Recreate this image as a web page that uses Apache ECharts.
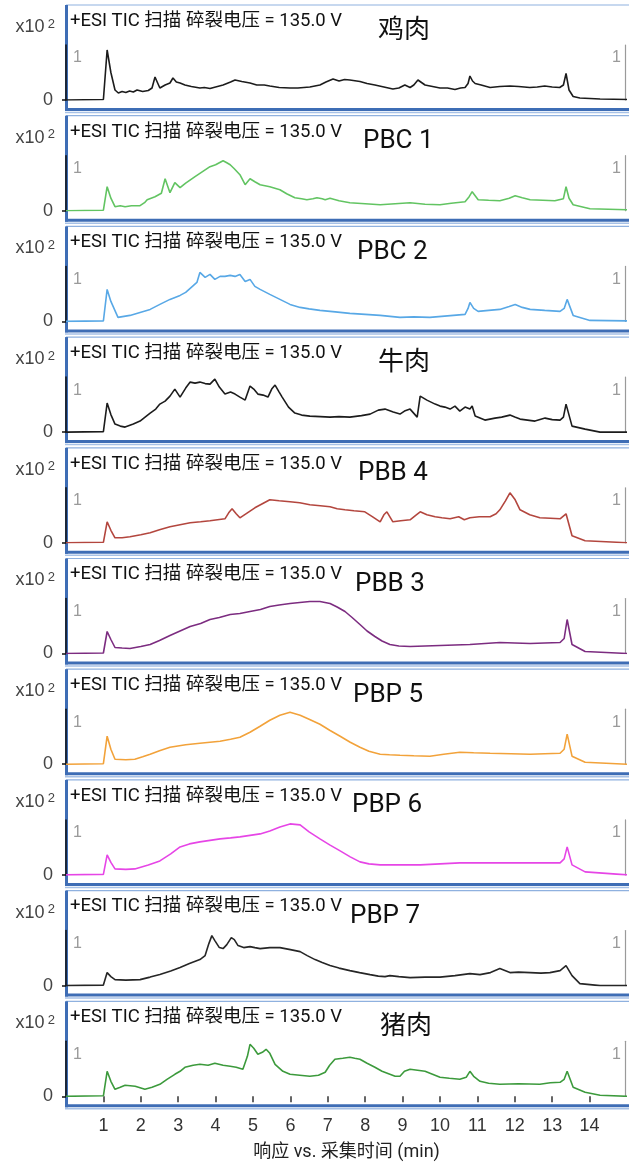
<!DOCTYPE html>
<html>
<head>
<meta charset="utf-8">
<script src="https://cdn.jsdelivr.net/npm/echarts@6.0.0/dist/echarts.min.js"></script>
<style>
  html, body { margin: 0; padding: 0; background: #fff; }
  #tic-chart { width: 629px; height: 1164px; }
</style>
</head>
<body>
<div id="tic-chart"></div>
<script>
// 样品名称（每个面板一个）
var sampleNames = ['鸡肉', 'PBC 1', 'PBC 2', '牛肉', 'PBB 4', 'PBB 3', 'PBP 5', 'PBP 6', 'PBP 7', '猪肉'];
var headerText = '+ESI TIC 扫描 碎裂电压 = 135.0 V';
var xTicks = [1, 2, 3, 4, 5, 6, 7, 8, 9, 10, 11, 12, 13, 14];
var yTickZero = [0];
var yTickOne = [1];

// TIC 数据 [时间(min), 响应 x10^2]
var jirou = [[0,0],[1.0,0.01],[1.1,1.0],[1.2,0.55],[1.31,0.2],[1.4,0.14],[1.5,0.17],[1.6,0.15],[1.7,0.18],[1.8,0.16],[1.9,0.2],[2.05,0.17],[2.2,0.19],[2.3,0.24],[2.38,0.46],[2.45,0.34],[2.51,0.24],[2.65,0.3],[2.78,0.34],[2.86,0.44],[2.95,0.36],[3.05,0.34],[3.18,0.3],[3.35,0.27],[3.58,0.24],[3.7,0.25],[3.85,0.23],[4.0,0.26],[4.2,0.3],[4.4,0.36],[4.52,0.4],[4.7,0.37],[4.92,0.34],[5.1,0.3],[5.3,0.3],[5.45,0.28],[5.7,0.25],[5.99,0.24],[6.2,0.24],[6.52,0.26],[6.79,0.3],[6.95,0.36],[7.14,0.42],[7.3,0.38],[7.45,0.41],[7.59,0.4],[7.86,0.37],[8.05,0.33],[8.26,0.3],[8.5,0.26],[8.74,0.22],[8.9,0.24],[9.06,0.3],[9.2,0.25],[9.3,0.3],[9.41,0.4],[9.6,0.3],[9.8,0.27],[10.0,0.24],[10.2,0.24],[10.4,0.21],[10.55,0.24],[10.67,0.25],[10.75,0.33],[10.8,0.48],[10.87,0.38],[10.94,0.33],[11.1,0.3],[11.34,0.25],[11.6,0.27],[11.87,0.28],[12.1,0.27],[12.4,0.25],[12.6,0.26],[12.8,0.28],[13.0,0.26],[13.2,0.25],[13.3,0.3],[13.37,0.53],[13.45,0.2],[13.56,0.07],[13.74,0.04],[14.28,0.02],[15,0.01]];
var pbc1 = [[0,0],[1.0,0.01],[1.1,0.48],[1.2,0.25],[1.31,0.08],[1.45,0.1],[1.58,0.08],[1.75,0.1],[1.98,0.1],[2.1,0.16],[2.17,0.22],[2.38,0.28],[2.55,0.35],[2.65,0.64],[2.78,0.36],[2.91,0.56],[3.05,0.46],[3.2,0.55],[3.45,0.68],[3.65,0.78],[3.85,0.88],[4.0,0.92],[4.2,1.0],[4.3,0.96],[4.39,0.92],[4.5,0.84],[4.65,0.72],[4.79,0.52],[4.92,0.64],[5.05,0.58],[5.19,0.52],[5.45,0.48],[5.72,0.42],[5.9,0.34],[6.12,0.26],[6.3,0.24],[6.44,0.22],[6.6,0.24],[6.71,0.26],[6.85,0.24],[6.93,0.22],[7.06,0.25],[7.3,0.2],[7.59,0.16],[8.0,0.14],[8.4,0.12],[8.8,0.14],[9.2,0.16],[9.6,0.13],[10.0,0.12],[10.3,0.15],[10.67,0.18],[10.78,0.28],[10.86,0.38],[11.02,0.22],[11.3,0.21],[11.6,0.2],[11.85,0.25],[12.01,0.3],[12.2,0.26],[12.41,0.22],[12.75,0.21],[13.07,0.2],[13.3,0.24],[13.37,0.48],[13.45,0.25],[13.56,0.12],[14.01,0.04],[15,0.02]];
var pbc2 = [[0,0],[1.0,0.01],[1.1,0.64],[1.2,0.4],[1.39,0.08],[1.55,0.1],[1.71,0.12],[1.98,0.18],[2.25,0.24],[2.51,0.34],[2.78,0.44],[3.05,0.52],[3.2,0.58],[3.32,0.66],[3.5,0.78],[3.58,0.98],[3.72,0.88],[3.85,0.94],[3.98,0.84],[4.12,0.9],[4.25,0.9],[4.39,0.92],[4.52,0.9],[4.65,0.94],[4.79,0.8],[4.92,0.84],[5.05,0.7],[5.19,0.64],[5.45,0.54],[5.72,0.44],[5.99,0.34],[6.26,0.28],[6.5,0.25],[6.79,0.22],[7.2,0.19],[7.59,0.16],[8.0,0.14],[8.4,0.12],[8.93,0.08],[9.3,0.09],[9.73,0.08],[10.2,0.11],[10.67,0.14],[10.75,0.26],[10.8,0.38],[10.9,0.26],[11.02,0.2],[11.3,0.22],[11.6,0.24],[11.85,0.3],[12.01,0.34],[12.2,0.28],[12.41,0.24],[12.8,0.22],[13.21,0.2],[13.32,0.26],[13.4,0.44],[13.56,0.12],[14.01,0.02],[15,0.01]];
var niurou = [[0,0],[1.0,0.01],[1.1,0.58],[1.2,0.35],[1.31,0.16],[1.45,0.12],[1.58,0.1],[1.8,0.16],[1.98,0.22],[2.25,0.38],[2.4,0.46],[2.51,0.56],[2.65,0.62],[2.78,0.72],[2.91,0.86],[3.05,0.7],[3.2,0.88],[3.32,1.0],[3.45,0.98],[3.58,1.0],[3.72,0.97],[3.85,0.96],[3.98,1.06],[4.1,0.9],[4.25,0.76],[4.4,0.8],[4.52,0.76],[4.65,0.7],[4.79,0.64],[4.92,0.92],[5.02,0.86],[5.13,0.76],[5.27,0.74],[5.4,0.7],[5.5,0.86],[5.59,0.94],[5.7,0.8],[5.78,0.7],[5.95,0.5],[6.12,0.38],[6.3,0.34],[6.52,0.32],[6.8,0.31],[7.06,0.3],[7.3,0.31],[7.59,0.3],[7.9,0.33],[8.13,0.36],[8.35,0.44],[8.53,0.46],[8.75,0.4],[8.93,0.36],[9.05,0.42],[9.2,0.46],[9.39,0.3],[9.47,0.72],[9.65,0.64],[9.87,0.56],[10.0,0.52],[10.13,0.5],[10.27,0.46],[10.4,0.52],[10.53,0.42],[10.67,0.5],[10.8,0.46],[10.86,0.52],[10.94,0.32],[11.2,0.24],[11.47,0.28],[11.65,0.3],[11.87,0.34],[12.0,0.3],[12.14,0.26],[12.54,0.22],[12.81,0.28],[13.0,0.25],[13.21,0.24],[13.3,0.3],[13.37,0.56],[13.53,0.12],[13.88,0.06],[14.28,0.0],[15,0]];
var pbb4 = [[0,0],[1.0,0.01],[1.1,0.42],[1.2,0.25],[1.31,0.1],[1.5,0.1],[1.71,0.12],[2.0,0.16],[2.25,0.2],[2.5,0.26],[2.78,0.32],[3.05,0.36],[3.32,0.4],[3.6,0.42],[3.85,0.44],[4.05,0.46],[4.25,0.48],[4.35,0.6],[4.44,0.68],[4.55,0.58],[4.65,0.5],[4.85,0.6],[5.05,0.7],[5.25,0.78],[5.45,0.86],[5.7,0.84],[5.99,0.82],[6.25,0.8],[6.52,0.76],[6.8,0.74],[7.06,0.72],[7.25,0.68],[7.46,0.66],[7.7,0.64],[7.99,0.62],[8.2,0.52],[8.4,0.42],[8.5,0.56],[8.58,0.62],[8.74,0.42],[8.95,0.44],[9.2,0.46],[9.35,0.55],[9.47,0.62],[9.65,0.56],[9.87,0.52],[10.05,0.5],[10.27,0.48],[10.5,0.52],[10.65,0.46],[10.8,0.5],[11.05,0.52],[11.34,0.52],[11.5,0.58],[11.6,0.66],[11.75,0.84],[11.87,1.0],[12.01,0.86],[12.14,0.66],[12.4,0.56],[12.67,0.5],[12.95,0.49],[13.21,0.48],[13.37,0.58],[13.53,0.14],[13.88,0.04],[15,0]];
var pbb3 = [[0,0],[1.0,0.01],[1.1,0.44],[1.2,0.28],[1.31,0.12],[1.5,0.11],[1.71,0.1],[2.0,0.14],[2.25,0.18],[2.5,0.26],[2.78,0.36],[3.05,0.45],[3.32,0.54],[3.6,0.6],[3.85,0.68],[4.1,0.72],[4.39,0.78],[4.65,0.8],[4.92,0.84],[5.2,0.88],[5.45,0.94],[5.7,0.97],[5.99,1.0],[6.25,1.02],[6.52,1.04],[6.79,1.04],[7.06,1.0],[7.25,0.93],[7.46,0.84],[7.65,0.72],[7.86,0.58],[8.05,0.45],[8.26,0.34],[8.45,0.25],[8.66,0.18],[8.9,0.15],[9.2,0.14],[9.6,0.15],[10.0,0.16],[10.4,0.17],[10.8,0.18],[11.2,0.2],[11.6,0.22],[12.0,0.21],[12.41,0.2],[12.8,0.21],[13.21,0.22],[13.32,0.3],[13.4,0.68],[13.53,0.18],[13.88,0.04],[15,0]];
var pbp5 = [[0,0],[1.0,0.01],[1.1,0.56],[1.2,0.3],[1.31,0.1],[1.6,0.09],[1.84,0.1],[2.05,0.15],[2.25,0.2],[2.5,0.27],[2.78,0.34],[3.2,0.39],[3.58,0.42],[3.85,0.44],[4.12,0.46],[4.4,0.5],[4.65,0.54],[4.92,0.64],[5.19,0.76],[5.45,0.88],[5.72,0.98],[5.99,1.04],[6.26,0.98],[6.5,0.9],[6.79,0.8],[7.05,0.68],[7.33,0.56],[7.6,0.44],[7.86,0.34],[8.1,0.26],[8.4,0.2],[8.65,0.19],[8.93,0.18],[9.3,0.17],[9.73,0.16],[10.1,0.2],[10.53,0.24],[10.9,0.23],[11.34,0.22],[11.9,0.21],[12.41,0.2],[12.8,0.21],[13.21,0.22],[13.32,0.3],[13.4,0.6],[13.53,0.16],[13.88,0.04],[15,0]];
var pbp6 = [[0,0],[1.0,0.01],[1.1,0.4],[1.2,0.25],[1.31,0.12],[1.6,0.11],[1.84,0.12],[2.2,0.2],[2.51,0.28],[2.8,0.42],[3.05,0.56],[3.3,0.62],[3.58,0.66],[3.85,0.69],[4.12,0.72],[4.4,0.74],[4.65,0.76],[4.92,0.79],[5.19,0.82],[5.45,0.88],[5.72,0.96],[5.99,1.02],[6.26,1.0],[6.5,0.86],[6.79,0.72],[7.05,0.6],[7.33,0.48],[7.6,0.36],[7.86,0.26],[8.1,0.22],[8.4,0.2],[8.9,0.2],[9.47,0.2],[10.0,0.22],[10.53,0.24],[11.1,0.24],[11.6,0.24],[12.4,0.24],[13.21,0.24],[13.32,0.32],[13.4,0.56],[13.53,0.2],[13.88,0.06],[15,0]];
var pbp7 = [[0,0],[1.0,0.01],[1.1,0.26],[1.2,0.18],[1.31,0.12],[1.6,0.11],[1.98,0.12],[2.25,0.17],[2.51,0.22],[2.8,0.29],[3.05,0.36],[3.3,0.44],[3.58,0.52],[3.72,0.6],[3.82,0.84],[3.9,1.0],[3.98,0.9],[4.1,0.76],[4.2,0.74],[4.3,0.82],[4.42,0.96],[4.5,0.92],[4.6,0.8],[4.75,0.76],[4.92,0.78],[5.05,0.76],[5.19,0.74],[5.45,0.76],[5.72,0.76],[6.0,0.72],[6.26,0.68],[6.45,0.6],[6.66,0.52],[6.85,0.46],[7.06,0.4],[7.3,0.35],[7.59,0.3],[7.85,0.26],[8.13,0.22],[8.35,0.19],[8.53,0.18],[8.66,0.2],[8.9,0.18],[9.2,0.16],[9.6,0.17],[10.0,0.17],[10.4,0.2],[10.8,0.24],[11.07,0.22],[11.35,0.26],[11.6,0.34],[11.87,0.26],[12.1,0.27],[12.41,0.26],[12.7,0.25],[12.94,0.26],[13.21,0.3],[13.37,0.4],[13.53,0.2],[13.74,0.04],[14.28,0],[15,0]];
var zhurou = [[0,0],[1.0,0.01],[1.1,0.5],[1.2,0.3],[1.31,0.14],[1.45,0.18],[1.58,0.22],[1.85,0.2],[2.11,0.14],[2.3,0.18],[2.51,0.24],[2.7,0.34],[2.91,0.44],[3.05,0.5],[3.18,0.58],[3.4,0.62],[3.58,0.64],[3.8,0.62],[3.98,0.66],[4.2,0.62],[4.39,0.6],[4.55,0.58],[4.73,0.54],[4.85,0.8],[4.92,1.04],[5.02,0.96],[5.13,0.84],[5.25,0.88],[5.35,0.94],[5.45,0.86],[5.59,0.64],[5.8,0.5],[5.99,0.44],[6.25,0.42],[6.52,0.4],[6.75,0.42],[6.93,0.48],[7.05,0.62],[7.19,0.74],[7.4,0.76],[7.59,0.78],[7.72,0.76],[7.86,0.74],[8.05,0.66],[8.26,0.58],[8.45,0.5],[8.66,0.44],[8.8,0.4],[8.93,0.4],[9.05,0.5],[9.2,0.54],[9.4,0.52],[9.6,0.5],[9.8,0.44],[10.0,0.38],[10.25,0.36],[10.53,0.34],[10.7,0.38],[10.8,0.5],[10.9,0.4],[11.07,0.3],[11.3,0.26],[11.6,0.24],[12.1,0.25],[12.67,0.24],[12.95,0.27],[13.21,0.28],[13.32,0.34],[13.4,0.5],[13.56,0.18],[13.88,0.08],[14.28,0.02],[15,0]];

var seriesData = [jirou, pbc1, pbc2, niurou, pbb4, pbb3, pbp5, pbp6, pbp7, zhurou];
var lineColors = ['#1c1c1c', '#62c462', '#58a8e6', '#1c1c1c', '#b3463e', '#7c2c80', '#f2a23a', '#e645e6', '#262626', '#3c9a3c'];
// 名称的水平位置
var nameLeft = [378, 363, 357, 378, 358, 355, 353, 352, 350, 380];

var chart = echarts.init(document.getElementById('tic-chart'));

var pitch = 110.7;
var frameTop = 5;
var grids = [], xAxes = [], yAxes = [], series = [], titles = [], graphics = [];
var font = "Roboto, 'Noto Sans CJK SC', sans-serif";

for (var i = 0; i < seriesData.length; i++) {
    var T = frameTop + pitch * i;
    var last = i === seriesData.length - 1;

    // 面板边框
    graphics.push({ type: 'line', shape: { x1: 66, y1: T, x2: 629, y2: T }, style: { stroke: '#8fb1df', lineWidth: 1.2 } });
    graphics.push({ type: 'rect', shape: { x: 65, y: T, width: 3, height: 106 }, style: { fill: '#3e6db5' } });
    graphics.push({ type: 'rect', shape: { x: 65, y: T + 103, width: 564, height: 3 }, style: { fill: '#3e6db5' } });
    graphics.push({ type: 'line', shape: { x1: 65, y1: T + 107.5, x2: 629, y2: T + 107.5 }, style: { stroke: '#a7c1e6', lineWidth: 1.5 } });

    grids.push({ left: 66, right: 2, top: T + 40, height: 55 });

    xAxes.push({
        gridIndex: i,
        type: 'value',
        min: 0,
        max: 15,
        interval: 1,
        show: last,
        offset: 12,
        axisLine: { show: false },
        axisTick: { show: true, customValues: xTicks, length: 6, lineStyle: { color: '#333', width: 1.5 } },
        axisLabel: { customValues: xTicks, margin: 9, color: '#333', fontSize: 18, fontFamily: "'Liberation Sans Narrow', 'Liberation Sans', sans-serif" },
        splitLine: { show: false },
        name: last ? '响应 vs. 采集时间 (min)' : '',
        nameLocation: 'middle',
        nameGap: 35,
        nameTextStyle: { color: '#222', fontSize: 18, fontFamily: font }
    });

    // 左侧黑色刻度条 (0)
    yAxes.push({
        gridIndex: i,
        type: 'value',
        min: 0,
        max: 1.1,
        position: 'left',
        offset: 4,
        axisLine: { show: true, lineStyle: { color: '#111', width: 1.5 } },
        axisTick: { show: true, customValues: yTickZero, length: 4, lineStyle: { color: '#111', width: 1.5 } },
        axisLabel: { customValues: yTickZero, margin: 9, color: '#444', fontSize: 18, fontFamily: "'Liberation Sans', sans-serif" },
        splitLine: { show: false },
        name: '{a|x10} {b|2}',
        nameLocation: 'end',
        nameGap: 18,
        nameTextStyle: {
            align: 'right',
            verticalAlign: 'middle',
            padding: [0, 11, 0, 0],
            rich: {
                a: { fontSize: 18, color: '#444', fontFamily: "'Liberation Sans', sans-serif" },
                b: { fontSize: 13, color: '#444', verticalAlign: 'top', padding: [0, 0, 6, 0], fontFamily: "'Liberation Sans', sans-serif" }
            }
        }
    });
    // 右侧灰色刻度线 (1)
    yAxes.push({
        gridIndex: i,
        type: 'value',
        min: 0,
        max: 1.1,
        position: 'right',
        offset: -2,
        axisLine: { show: true, lineStyle: { color: '#9a9a9a', width: 1.2 } },
        axisTick: { show: false },
        axisLabel: { inside: true, customValues: yTickOne, margin: 4, verticalAlign: 'top', color: '#9a9a9a', fontSize: 16, fontFamily: "'Liberation Sans', sans-serif" },
        splitLine: { show: false }
    });
    // 左侧内部灰色 1
    yAxes.push({
        gridIndex: i,
        type: 'value',
        min: 0,
        max: 1.1,
        position: 'left',
        offset: 0,
        axisLine: { show: false },
        axisTick: { show: false },
        axisLabel: { inside: true, customValues: yTickOne, margin: 7, verticalAlign: 'top', color: '#9a9a9a', fontSize: 16, fontFamily: "'Liberation Sans', sans-serif" },
        splitLine: { show: false }
    });

    series.push({
        name: sampleNames[i],
        type: 'line',
        xAxisIndex: i,
        yAxisIndex: i * 3,
        data: seriesData[i],
        showSymbol: false,
        silent: true,
        lineStyle: { color: lineColors[i], width: 1.6 },
        itemStyle: { color: lineColors[i] }
    });

    titles.push({
        text: headerText,
        left: 70,
        top: T + 7,
        textStyle: { fontSize: 18.5, fontWeight: 'normal', color: '#111', fontFamily: font },
        padding: 0
    });
    titles.push({
        text: sampleNames[i],
        left: nameLeft[i],
        top: T + 13,
        textStyle: { fontSize: 26, fontWeight: 'normal', color: '#111', fontFamily: font },
        padding: 0
    });
}

var option = {
    backgroundColor: '#fff',
    animation: false,
    title: titles,
    grid: grids,
    xAxis: xAxes,
    yAxis: yAxes,
    series: series,
    graphic: graphics
};
chart.setOption(option);
window.addEventListener('resize', function () {
    chart.resize();
});
</script>
</body>
</html>
